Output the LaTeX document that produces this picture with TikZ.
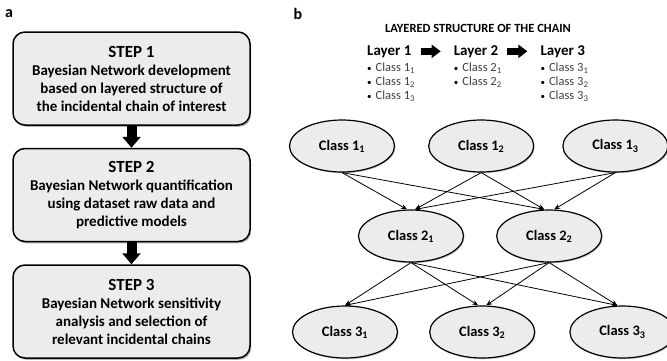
\documentclass[tikz,border=0pt]{standalone}
\usepackage{fontspec}
\setmainfont{Carlito}
\usepackage{tikz}
\usetikzlibrary{shapes.geometric, arrows.meta, positioning, shadows}

\newcommand{\blt}{{\color{black}\fontsize{9}{9}\selectfont\textbullet}\hspace{4pt}}

\begin{document}
\begin{tikzpicture}[
        x=1pt, y=-1pt,
        stepbox/.style={rectangle, draw=black, line width=1.5pt, fill=gray!15, rounded corners=12pt, minimum width=237pt, minimum height=93pt, align=center, font=\bfseries\fontsize{15}{18}\selectfont, drop shadow={shadow xshift=1.2pt, shadow yshift=-1.8pt, opacity=0.6}},
        cls/.style={ellipse, draw=black, line width=1.2pt, fill=gray!15, minimum width=105pt, minimum height=52pt, font=\bfseries\fontsize{14.5}{17}\selectfont, drop shadow={shadow xshift=1pt, shadow yshift=-1.2pt, opacity=0.45}},
        layer/.style={font=\bfseries\fontsize{15}{18}\selectfont, inner sep=0pt},
        blist/.style={align=left, font=\fontsize{12.5}{14}\selectfont, text=black!75, inner sep=0pt},
        panel/.style={font=\bfseries\fontsize{16}{16}\selectfont, inner sep=0pt},
        arr/.style={-{Stealth[length=6pt, width=5pt]}, line width=0.8pt},
        bigarr/.style={-{Triangle[length=11pt, width=18pt]}, line width=10pt},
        sidearr/.style={-{Triangle[length=9pt, width=13pt]}, line width=7pt, shorten <=9pt, shorten >=13pt}
    ]
        \useasboundingbox (0,0) rectangle (667,360);

        % Panel a: steps
        \node[panel] (lbla) at (9,14) {a};
        \node[stepbox] (s1) at (131.5,78.5) {\fontsize{17}{18}\selectfont STEP 1\\Bayesian Network development\\based on layered structure of\\the incidental chain of interest};
        \node[stepbox, below=22pt of s1] (s2) {\fontsize{17}{18}\selectfont STEP 2\\Bayesian Network quantification\\using dataset raw data and\\predictive models};
        \node[stepbox, below=22pt of s2] (s3) {\fontsize{17}{18}\selectfont STEP 3\\Bayesian Network sensitivity\\analysis and selection of\\relevant incidental chains};

        \draw[bigarr] (s1.south) -- (s2.north);
        \draw[bigarr] (s2.south) -- (s3.north);

        % Panel b: layered structure
        \node[panel] (lblb) at (298,14) {b};
        \node[font=\bfseries\fontsize{12.5}{14}\selectfont] (title) at (478,28) {LAYERED STRUCTURE OF THE CHAIN};

        \node[layer, anchor=base west] (lay1) at (367,55) {Layer 1};
        \node[layer, right=42pt of lay1] (lay2) {Layer 2};
        \node[layer, right=42pt of lay2] (lay3) {Layer 3};

        \draw[sidearr] (lay1.east) -- (lay2.west);
        \draw[sidearr] (lay2.east) -- (lay3.west);

        \node[blist, below=5pt of lay1.south west, anchor=north west] (list1) {\blt Class 1\textsubscript{1}\\\blt Class 1\textsubscript{2}\\\blt Class 1\textsubscript{3}};
        \node[blist, below=5pt of lay2.south west, anchor=north west] (list2) {\blt Class 2\textsubscript{1}\\\blt Class 2\textsubscript{2}};
        \node[blist, below=5pt of lay3.south west, anchor=north west] (list3) {\blt Class 3\textsubscript{1}\\\blt Class 3\textsubscript{2}\\\blt Class 3\textsubscript{3}};

        % Network nodes
        \node[cls] (c11) at (342,146) {Class 1\textsubscript{1}};
        \node[cls, right=33pt of c11] (c12) {Class 1\textsubscript{2}};
        \node[cls, right=28pt of c12] (c13) {Class 1\textsubscript{3}};

        \node[cls] (c21) at (411,236) {Class 2\textsubscript{1}};
        \node[cls, right=32pt of c21] (c22) {Class 2\textsubscript{2}};

        \node[cls] (c31) at (345,332) {Class 3\textsubscript{1}};
        \node[cls, right=31pt of c31] (c32) {Class 3\textsubscript{2}};
        \node[cls, right=34pt of c32] (c33) {Class 3\textsubscript{3}};

        % Layer 1 to layer 2
        \draw[arr] (c11.south) -- ([xshift=-4pt]c21.north);
        \draw[arr] (c12.south) -- ([xshift=4pt]c21.north);
        \draw[arr] (c13.south) -- ([xshift=4pt]c21.north);
        \draw[arr] (c11.south) -- ([xshift=-5pt]c22.north);
        \draw[arr] (c12.south) -- ([xshift=-5pt]c22.north);
        \draw[arr] (c13.south) -- ([xshift=5pt]c22.north);

        % Layer 2 to layer 3
        \draw[arr] (c21.south) -- (c31.north);
        \draw[arr] (c22.south) -- (c31.north);
        \draw[arr] (c21.south) -- ([xshift=-4pt]c32.north);
        \draw[arr] (c22.south) -- ([xshift=4pt]c32.north);
        \draw[arr] (c21.south) -- ([xshift=-5pt]c33.north);
        \draw[arr] (c22.south) -- ([xshift=-5pt]c33.north);
\end{tikzpicture}
\end{document}
